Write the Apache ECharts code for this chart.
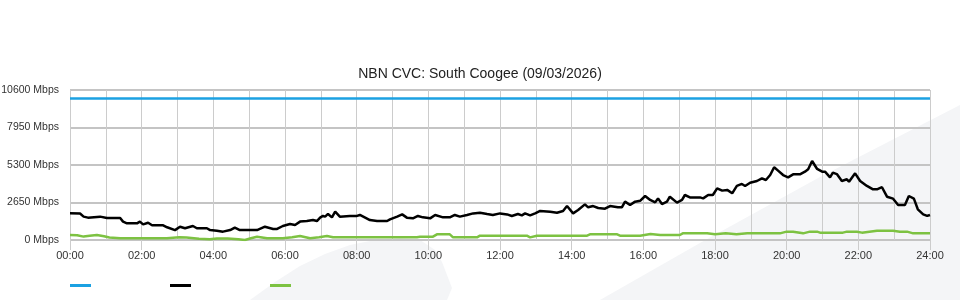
<!DOCTYPE html>
<html>
<head>
<meta charset="utf-8">
<script src="https://cdn.jsdelivr.net/npm/echarts@6/dist/echarts.min.js"></script>
<style>
html,body{margin:0;padding:0;background:#fff;}
#c{width:960px;height:300px;}
</style>
</head>
<body>
<div id="c"></div>
<script>
// ---- data (hours since midnight, Mbps) ----
var titleText = 'NBN CVC: South Coogee (09/03/2026)';
var seriesNames = ['Capacity', 'Download', 'Upload'];
var yTicks = [0, 2650, 5300, 7950, 10600];
var capacity = [[0, 10000], [24, 10000]];
var download = [
 [0.00,1885],[0.28,1870],[0.38,1650],[0.50,1580],[0.84,1650],[1.03,1550],[1.40,1550],[1.48,1300],
 [1.59,1180],[1.87,1180],[1.95,1300],[2.04,1100],[2.18,1220],[2.29,1040],[2.60,1040],[2.71,900],
 [2.93,700],[3.07,940],[3.21,830],[3.43,990],[3.54,830],[3.82,830],[3.91,700],[4.10,660],
 [4.27,590],[4.47,700],[4.60,870],[4.74,700],[5.22,700],[5.44,940],[5.67,780],[5.78,780],
 [5.94,990],[6.14,1130],[6.28,1060],[6.42,1300],[6.61,1340],[6.78,1410],[6.89,1340],[6.98,1580],
 [7.06,1700],[7.12,1650],[7.20,1840],[7.31,1600],[7.40,2000],[7.53,1650],[7.81,1700],[8.01,1700],
 [8.09,1770],[8.37,1410],[8.57,1340],[8.85,1340],[8.93,1460],[9.13,1650],[9.27,1810],[9.40,1580],
 [9.57,1530],[9.71,1700],[9.85,1600],[10.05,1530],[10.19,1770],[10.41,1600],[10.60,1600],[10.74,1770],
 [10.88,1650],[11.08,1770],[11.25,1880],[11.44,1930],[11.64,1840],[11.80,1770],[12.00,1880],[12.20,1810],
 [12.33,1700],[12.50,1840],[12.61,1740],[12.70,1880],[12.84,1740],[12.98,1880],[13.12,2050],[13.40,2000],
 [13.59,1930],[13.76,2050],[13.87,2400],[14.04,1880],[14.18,2120],[14.37,2520],[14.46,2310],[14.60,2400],
 [14.74,2260],[14.93,2210],[15.07,2400],[15.29,2310],[15.40,2310],[15.49,2710],[15.63,2470],[15.77,2710],
 [15.91,2770],[16.05,3110],[16.19,2830],[16.33,2660],[16.41,2940],[16.52,2540],[16.66,2710],[16.74,3060],
 [16.94,2640],[17.08,2830],[17.16,3180],[17.30,3010],[17.58,3010],[17.67,2940],[17.81,3180],[17.94,3180],
 [18.06,3650],[18.20,3490],[18.34,3540],[18.48,3300],[18.61,3820],[18.75,3960],[18.84,3820],[18.98,4050],
 [19.17,4170],[19.31,4360],[19.42,4240],[19.54,4590],[19.65,5140],[19.76,4900],[19.90,4590],[20.04,4430],
 [20.18,4640],[20.37,4640],[20.51,4830],[20.60,5000],[20.71,5580],[20.76,5460],[20.85,5020],[20.99,4830],
 [21.07,4830],[21.21,4430],[21.29,4760],[21.40,4660],[21.54,4170],[21.68,4290],[21.74,4120],[21.91,4710],
 [22.05,4170],[22.24,3820],[22.41,3580],[22.52,3580],[22.66,3730],[22.80,3060],[22.97,2920],[23.11,2470],
 [23.30,2470],[23.41,3110],[23.55,2920],[23.66,2170],[23.81,1810],[23.92,1700],[24.00,1770]
];
var upload = [
 [0,350],[0.2,340],[0.38,240],[0.55,300],[0.75,360],[0.95,260],[1.1,180],[1.4,120],[1.8,120],[2.2,120],
 [2.7,120],[3.05,190],[3.25,180],[3.6,90],[3.9,50],[4.1,110],[4.4,110],[4.7,60],[4.88,0],[5.05,120],
 [5.22,235],[5.5,118],[5.94,118],[6.2,200],[6.42,283],[6.7,118],[6.95,200],[7.17,283],[7.34,200],[8.0,190],
 [8.8,200],[9.68,200],[9.77,235],[10.13,235],[10.24,400],[10.6,400],[10.69,188],[11.36,188],[11.44,306],[12.0,306],
 [12.75,306],[12.84,188],[13.03,306],[13.7,306],[14.43,306],[14.51,400],[15.27,400],[15.35,306],[15.91,306],[16.2,424],
 [16.47,353],[16.55,353],[17.02,353],[17.1,470],[17.78,470],[18.0,400],[18.3,470],[18.6,400],[18.9,470],[19.26,470],
 [19.81,470],[20.0,590],[20.18,590],[20.46,470],[20.65,590],[20.85,590],[20.93,520],[21.57,520],[21.68,590],[21.96,590],
 [22.1,520],[22.52,660],[22.97,660],[23.16,590],[23.36,590],[23.53,470],[24,470]
];

function pad(n){ return (n < 10 ? '0' : '') + n; }

var chart = echarts.init(document.getElementById('c'), null, {renderer: 'canvas'});
chart.setOption({
  animation: false,
  backgroundColor: '#ffffff',
  graphic: [
    {type: 'polygon', z: -10, silent: true,
     shape: {points: [[250,300],[275,282],[300,266],[325,254],[350,245],[375,240],[400,238],[420,240],[435,250],[442,262],[452,288],[447,300]]},
     style: {fill: '#f4f5f7'}},
    {type: 'polygon', z: -10, silent: true,
     shape: {points: [[600,300],[700,243],[820,177],[960,105],[960,300]]},
     style: {fill: '#f4f5f7'}}
  ],
  title: {
    text: titleText, left: 'center', top: 62,
    textStyle: {fontFamily: 'Liberation Sans, Arial, sans-serif', fontSize: 14, fontWeight: 'normal', color: '#222'}
  },
  legend: {
    data: seriesNames, left: 70, top: 284, padding: 0, icon: 'rect', itemWidth: 21, itemHeight: 3, itemGap: 79,
    formatter: function(){ return ''; }, textStyle: {fontSize: 11}
  },
  grid: {left: 70, right: 30, top: 90, bottom: 60, containLabel: false, outerBoundsMode: 'none'},
  xAxis: {
    type: 'value', min: 0, max: 24, interval: 2,
    axisLine: {show: false},
    axisTick: {show: true, length: 10, lineStyle: {color: '#cccccc', width: 1}},
    axisLabel: {margin: 10, fontFamily: 'Liberation Sans, Arial, sans-serif', fontSize: 11, color: '#333',
      formatter: function(v){ return pad(v) + ':00'; }},
    splitLine: {show: true, lineStyle: {color: '#cccccc', width: 1}},
    minorTick: {show: false, splitNumber: 2},
    minorSplitLine: {show: true, lineStyle: {color: '#cccccc', width: 1}}
  },
  yAxis: {
    type: 'value', min: yTicks[0], max: yTicks[yTicks.length - 1], interval: yTicks[1] - yTicks[0],
    axisLine: {show: false}, axisTick: {show: false},
    axisLabel: {margin: 11, fontFamily: 'Liberation Sans, Arial, sans-serif', fontSize: 10.5, color: '#333',
      formatter: function(v){ return v + ' Mbps'; }},
    splitLine: {show: true, lineStyle: {color: '#c4c4c4', width: 2}}
  },
  series: [
    {name: seriesNames[0], type: 'line', data: capacity, showSymbol: false, color: '#1ba1e2',
     lineStyle: {width: 2.5, color: '#1ba1e2'}},
    {name: seriesNames[1], type: 'line', data: download, showSymbol: false, color: '#000000',
     lineStyle: {width: 2.5, color: '#000000'}},
    {name: seriesNames[2], type: 'line', data: upload, showSymbol: false, color: '#7dc242',
     lineStyle: {width: 2.5, color: '#7dc242'}}
  ]
});
</script>
</body>
</html>
